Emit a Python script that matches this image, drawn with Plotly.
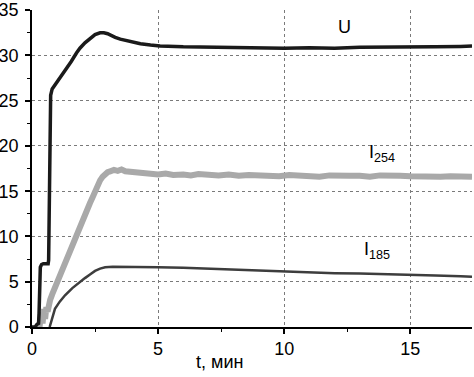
import plotly.graph_objects as go

# U (black)
t_u = [0.0, 0.12, 0.2, 0.26, 0.28, 0.3, 0.33, 0.38, 0.45, 0.55, 0.64, 0.66, 0.68, 0.7, 0.74, 0.8, 0.9, 1.03, 1.11, 1.25, 1.38, 1.55, 1.77, 1.9, 2.1, 2.3, 2.5, 2.7, 2.85, 3.0, 3.1, 3.3, 3.5, 3.8, 4.0, 4.3, 4.7, 5.08, 6.0, 7.0, 8.0, 9.0, 10.0, 11.0, 12.0, 13.0, 14.0, 15.0, 16.0, 17.0, 17.45]
u = [0.0, 0.0, 0.3, 0.4, 1.5, 5.0, 6.6, 6.9, 7.0, 7.0, 7.0, 7.4, 15.0, 23.5, 25.6, 26.3, 26.7, 27.2, 27.5, 28.0, 28.5, 29.3, 30.3, 30.8, 31.4, 31.9, 32.3, 32.5, 32.5, 32.4, 32.3, 32.0, 31.8, 31.6, 31.5, 31.3, 31.15, 31.05, 30.95, 30.9, 30.85, 30.85, 30.8, 30.85, 30.8, 30.9, 30.9, 30.95, 30.95, 31.0, 31.05]

# I254 (light grey, noisy)
t_i254 = [0.3, 0.36, 0.42, 0.47, 0.52, 0.57, 0.62, 0.67, 0.72, 0.8, 0.9, 1.0, 1.15, 1.3, 1.5, 1.65, 1.77, 1.9, 2.0, 2.15, 2.3, 2.4, 2.5, 2.6, 2.7, 2.8, 2.9, 3.0, 3.1, 3.25, 3.4, 3.55, 3.7, 3.9, 4.2, 4.5, 4.8, 5.0, 5.3, 5.6, 6.0, 6.3, 6.6, 7.0, 7.4, 7.8, 8.2, 8.6, 9.0, 9.4, 9.8, 10.2, 10.6, 11.0, 11.4, 11.8, 12.2, 12.6, 13.0, 13.4, 13.8, 14.2, 14.6, 15.0, 15.4, 15.8, 16.2, 16.6, 17.0, 17.45]
i254 = [0.0, 1.6, 0.4, 2.0, 0.9, 2.2, 1.7, 2.9, 3.0, 3.6, 4.3, 5.0, 5.9, 7.0, 8.2, 9.2, 10.0, 10.9, 11.6, 12.6, 13.7, 14.3, 15.0, 15.7, 16.2, 16.6, 16.9, 17.1, 17.2, 17.35, 17.25, 17.4, 17.2, 17.15, 17.0, 17.05, 16.9, 16.85, 16.95, 16.8, 16.85, 16.75, 16.9, 16.8, 16.75, 16.85, 16.7, 16.8, 16.7, 16.75, 16.65, 16.8, 16.7, 16.7, 16.6, 16.75, 16.65, 16.7, 16.7, 16.6, 16.75, 16.65, 16.7, 16.65, 16.6, 16.7, 16.6, 16.65, 16.65, 16.6]

# I185 (dark grey)
t_i185 = [0.7, 0.8, 0.91, 1.1, 1.31, 1.6, 1.9, 2.1, 2.3, 2.5, 2.7, 2.9, 3.2, 4.0, 5.0, 6.0, 7.0, 8.0, 9.0, 10.0, 11.0, 12.0, 13.0, 14.0, 15.0, 16.0, 17.0, 17.45]
i185 = [0.0, 1.0, 2.0, 2.8, 3.5, 4.3, 5.0, 5.4, 5.8, 6.2, 6.45, 6.6, 6.65, 6.65, 6.6, 6.55, 6.45, 6.35, 6.2, 6.1, 6.0, 5.95, 5.9, 5.85, 5.8, 5.7, 5.6, 5.55]

x_ticks = [0, 5, 10, 15]
y_ticks = [0, 5, 10, 15, 20, 25, 30, 35]

FONT = "Arial, Liberation Sans, sans-serif"

fig = go.Figure()
fig.add_trace(go.Scatter(x=t_i254, y=i254, mode="lines",
                         line=dict(color="#a9a9a9", width=6), showlegend=False))
fig.add_trace(go.Scatter(x=t_i185, y=i185, mode="lines",
                         line=dict(color="#3d3d3d", width=2.5), showlegend=False))
fig.add_trace(go.Scatter(x=t_u, y=u, mode="lines",
                         line=dict(color="#1a1a1a", width=3.5), showlegend=False))

axis_common = dict(
    showline=True, linecolor="black", linewidth=1.5,
    ticks="outside", ticklen=5, tickwidth=1.5, tickcolor="black",
    showgrid=True, gridcolor="#7a7a7a", gridwidth=1, griddash="dot",
    zeroline=False, tickfont=dict(family=FONT, size=18, color="black"),
    automargin=False, ticklabeloverflow="allow",
    minor=dict(ticks="outside", ticklen=3, tickwidth=1.2, tickcolor="black", dtick=2.5, showgrid=False),
)

fig.update_xaxes(range=[0, 17.45], tickvals=x_ticks, **axis_common)
fig.update_yaxes(range=[0, 35.02], tickvals=y_ticks, ticklabelstandoff=3, **axis_common)

fig.add_annotation(x=0.427, y=-0.11, xref="paper", yref="paper", text="t, мин",
                   showarrow=False, font=dict(family=FONT, size=18, color="black"),
                   xanchor="center", yanchor="middle")
fig.add_annotation(x=12.4, y=33.1, text="U", showarrow=False,
                   font=dict(family=FONT, size=18, color="black"))
fig.add_annotation(x=13.9, y=19.2, text="I<sub>254</sub>", showarrow=False,
                   font=dict(family=FONT, size=18, color="black"))
fig.add_annotation(x=13.7, y=8.5, text="I<sub>185</sub>", showarrow=False,
                   font=dict(family=FONT, size=18, color="black"))

fig.update_layout(
    width=474, height=377,
    margin=dict(l=32, r=2, t=10, b=50),
    plot_bgcolor="white", paper_bgcolor="white",
    font=dict(family=FONT),
)

fig.write_html("out.html", post_script="document.body.style.margin='0';",
               config={"displayModeBar": False})
